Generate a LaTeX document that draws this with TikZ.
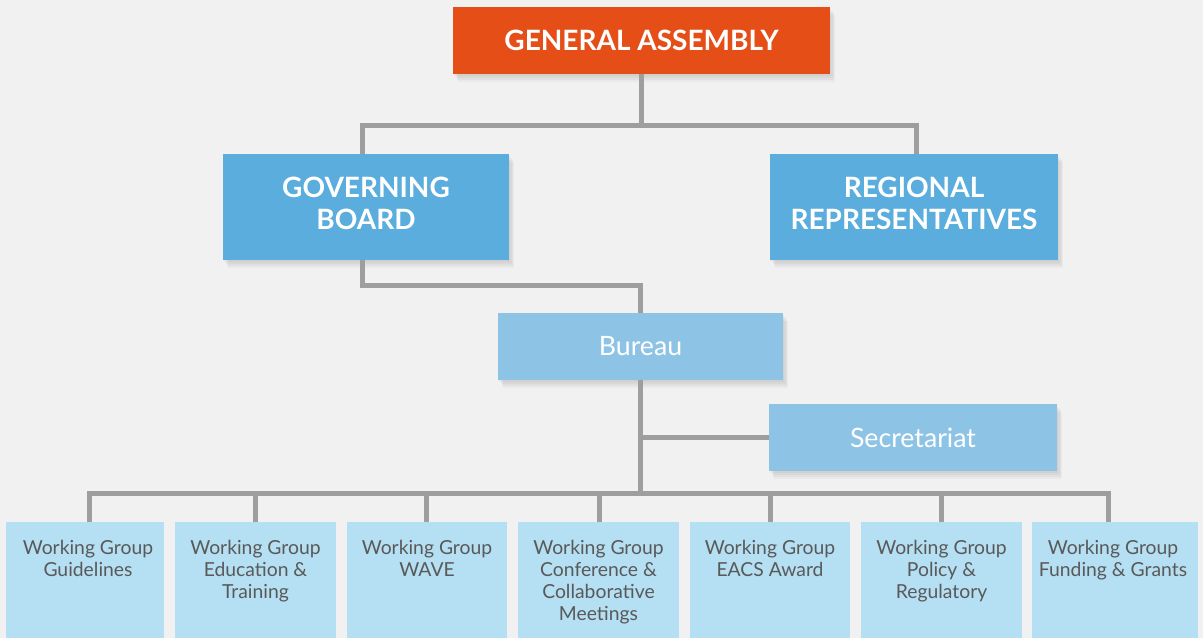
\documentclass[tikz,border=0pt]{standalone}
\usepackage{fontspec}
\setmainfont{Lato}
\definecolor{bgc}{HTML}{F1F1F1}
\definecolor{gac}{HTML}{E54E17}
\definecolor{bluec}{HTML}{5AADDD}
\definecolor{midc}{HTML}{8DC3E5}
\definecolor{lightc}{HTML}{B5DFF2}
\definecolor{linec}{HTML}{9E9E9E}
\definecolor{txtc}{HTML}{595959}
\tikzset{
  shad/.style={
    preaction={fill=black, opacity=0.035, transform canvas={xshift=1pt, yshift=-1.5pt}},
    preaction={fill=black, opacity=0.035, transform canvas={xshift=2pt, yshift=-3pt}},
    preaction={fill=black, opacity=0.035, transform canvas={xshift=3pt, yshift=-4.5pt}},
    preaction={fill=black, opacity=0.03, transform canvas={xshift=4pt, yshift=-6pt}}},
  boxbase/.style={rectangle, inner sep=0pt, shad, align=center},
  gabox/.style={boxbase, fill=gac, text=white, font=\bfseries\fontsize{21}{24}\selectfont},
  topbox/.style={boxbase, fill=bluec},
  toptext/.style={inner sep=0pt, align=center, text=white, font=\bfseries\fontsize{21}{24}\selectfont},
  midbox/.style={boxbase, fill=midc, text=white, font=\fontsize{20}{24}\selectfont},
  wgbox/.style={rectangle, inner sep=0pt, fill=lightc, anchor=north west},
  wgtext/.style={inner sep=0pt, anchor=north, align=center, text=txtc, font=\fontsize{14.5}{16.5}\selectfont},
  conn/.style={draw=linec, line width=3.75pt}
}
\begin{document}
\begin{tikzpicture}[x=0.75pt,y=-0.75pt]
\fill[bgc] (0,0) rectangle (1203,638);
\useasboundingbox (0,0) rectangle (1203,638);
% top boxes
\node[gabox, minimum width=282.75pt, minimum height=50.25pt] (ga) at (641.5,40.5) {GENERAL ASSEMBLY};
\node[topbox, minimum width=214.5pt, minimum height=79.5pt] (gb) at (366,207) {};
\node[topbox, minimum width=216pt, minimum height=79.5pt] (rr) at (914,207) {};
\node[toptext] (gbt) at (366,203.5) {GOVERNING\\BOARD};
\node[toptext] (rrt) at (914,203.5) {REGIONAL\\REPRESENTATIVES};
\node[midbox, minimum width=213.75pt, minimum height=50.25pt] (bu) at (640.5,346.5) {Bureau};
\node[midbox, minimum width=216pt, minimum height=50.25pt] (se) at (913,437.5) {Secretariat};
% working group boxes
\node[wgbox, minimum width=118.5pt, minimum height=87pt] (w1) at (6,522) {};
\node[wgbox, minimum width=120.75pt, minimum height=87pt] (w2) at (175,522) {};
\node[wgbox, minimum width=120pt, minimum height=87pt] (w3) at (347,522) {};
\node[wgbox, minimum width=120.75pt, minimum height=87pt] (w4) at (518,522) {};
\node[wgbox, minimum width=120pt, minimum height=87pt] (w5) at (690,522) {};
\node[wgbox, minimum width=120.75pt, minimum height=87pt] (w6) at (861,522) {};
\node[wgbox, minimum width=124.5pt, minimum height=87pt] (w7) at (1032,522) {};
\node[wgtext] (t1) at (88,540) {Working Group\\Guidelines};
\node[wgtext] (t2) at (255.5,540) {Working Group\\Education \&\\Training};
\node[wgtext] (t3) at (427,540) {Working Group\\WAVE};
\node[wgtext] (t4) at (598.5,540) {Working Group\\Conference \&\\Collaborative\\Meetings};
\node[wgtext] (t5) at (770,540) {Working Group\\EACS Award};
\node[wgtext] (t6) at (941.5,540) {Working Group\\Policy \&\\Regulatory};
\node[wgtext] (t7) at (1113,540) {Working Group\\Funding \& Grants};
% connectors
\draw[conn] (ga.south) -- (ga.south |- 0,126);
\draw[conn] (gb.north -| 362,0) |- (ga.south |- 0,126) -| (rr.north -| 916,0);
\draw[conn] (gb.south -| 362,0) |- (bu.north |- 0,285) -- (bu.north);
\draw[conn] (bu.south) -- (bu.south |- 0,493);
\draw[conn] (bu.south |- se.west) -- (se.west);
\draw[conn] (w1.north -| 89,0) |- (bu.south |- 0,493) -| (w7.north -| 1108,0);
\draw[conn] (w2.north -| 255,0) -- (255,493);
\draw[conn] (w3.north -| 426,0) -- (426,493);
\draw[conn] (w4.north -| 599,0) -- (599,493);
\draw[conn] (w5.north -| 770,0) -- (770,493);
\draw[conn] (w6.north -| 941,0) -- (941,493);
\end{tikzpicture}
\end{document}
